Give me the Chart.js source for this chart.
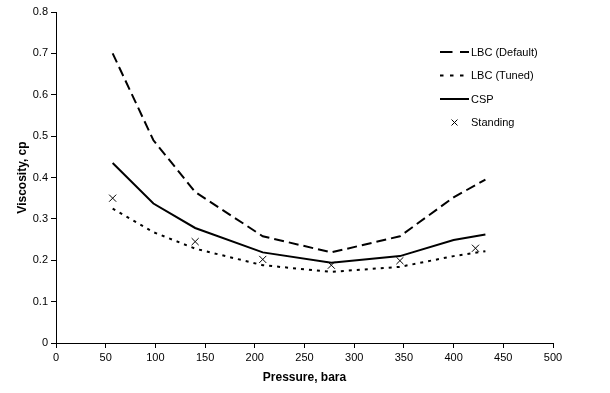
<!DOCTYPE html>
<html><head><meta charset="utf-8">
<script src="https://cdn.jsdelivr.net/npm/chart.js@4/dist/chart.umd.min.js"></script>
<style>html,body{margin:0;padding:0;background:#fff}#wrap{width:610px;height:393px}</style>
</head><body><div id="wrap"><canvas id="c" width="610" height="393"></canvas></div>
<script>
const pressureLines = [57, 98, 140, 208, 277, 346, 400, 432];
const lbcDefault = [0.700, 0.490, 0.365, 0.258, 0.219, 0.258, 0.352, 0.395];
const lbcTuned   = [0.325, 0.268, 0.228, 0.188, 0.172, 0.184, 0.210, 0.222];
const csp        = [0.435, 0.337, 0.278, 0.219, 0.194, 0.210, 0.249, 0.262];
const pressureStanding = [57, 140, 208, 277, 346, 422];
const standing   = [0.350, 0.245, 0.202, 0.188, 0.199, 0.229];
const seriesNames = ['LBC (Default)', 'LBC (Tuned)', 'CSP', 'Standing'];
const xTitle = 'Pressure, bara';
const yTitle = 'Viscosity, cp';

const pts = (xs, ys) => xs.map((x, i) => ({x, y: ys[i]}));
const FONT = "'Liberation Sans', Arial, sans-serif";
const legendDashes = [[12.5, 7.5], [3.5, 6.5], [], null];

const legendPlugin = {
  id: 'customLegend',
  afterDraw(chart) {
    const ctx = chart.ctx;
    const rows = [52, 75.5, 99, 122.5];
    ctx.save();
    ctx.font = '11px ' + FONT;
    ctx.fillStyle = '#000';
    ctx.textBaseline = 'middle';
    chart.data.datasets.forEach((ds, i) => {
      const y = rows[i];
      if (ds.showLine) {
        ctx.strokeStyle = '#000';
        ctx.lineWidth = ds.borderWidth;
        ctx.setLineDash(legendDashes[i]);
        ctx.beginPath(); ctx.moveTo(440, y); ctx.lineTo(469, y); ctx.stroke();
        ctx.setLineDash([]);
      } else {
        ctx.strokeStyle = '#000'; ctx.lineWidth = 1;
        const cx = 454.5, r = 3;
        ctx.beginPath();
        ctx.moveTo(cx - r, y - r); ctx.lineTo(cx + r, y + r);
        ctx.moveTo(cx - r, y + r); ctx.lineTo(cx + r, y - r);
        ctx.stroke();
      }
      ctx.fillText(ds.label, 471, y + 0.5);
    });
    ctx.restore();
  }
};

new Chart(document.getElementById('c'), {
  type: 'scatter',
  data: {
    datasets: [
      {label: seriesNames[0], data: pts(pressureLines, lbcDefault), showLine: true, borderColor: '#000', borderWidth: 2, borderDash: [10, 5], pointRadius: 0, fill: false},
      {label: seriesNames[1], data: pts(pressureLines, lbcTuned), showLine: true, borderColor: '#000', borderWidth: 2, borderDash: [3, 5], pointRadius: 0, fill: false},
      {label: seriesNames[2], data: pts(pressureLines, csp), showLine: true, borderColor: '#000', borderWidth: 2, pointRadius: 0, fill: false},
      {label: seriesNames[3], data: pts(pressureStanding, standing), showLine: false, borderColor: '#000', backgroundColor: '#000', borderWidth: 1, pointStyle: 'crossRot', pointRadius: 5}
    ]
  },
  options: {
    responsive: false,
    animation: false,
    layout: {padding: {left: 0, right: 57, top: 12, bottom: 0}},
    plugins: {legend: {display: false}, tooltip: {enabled: false}},
    scales: {
      x: {
        type: 'linear', min: 0, max: 500,
        ticks: {stepSize: 50, color: '#000', font: {family: FONT, size: 11}, padding: 3, maxRotation: 0},
        grid: {drawOnChartArea: false, drawTicks: true, tickLength: 5, color: '#000'},
        border: {display: true, color: '#000', width: 1},
        title: {display: true, text: xTitle, color: '#000', font: {family: FONT, size: 12, weight: 'bold'}, padding: {top: 0, bottom: 8}},
        afterFit: s => { s.height = 50; }
      },
      y: {
        min: 0, max: 0.8,
        ticks: {stepSize: 0.1, color: '#000', font: {family: FONT, size: 11}, padding: 3},
        grid: {drawOnChartArea: false, drawTicks: true, tickLength: 5, color: '#000'},
        border: {display: true, color: '#000', width: 1},
        title: {display: true, text: yTitle, color: '#000', font: {family: FONT, size: 12, weight: 'bold'}, padding: {top: 15, bottom: 0}},
        afterFit: s => { s.width = 56; }
      }
    }
  },
  plugins: [legendPlugin]
});
</script></body></html>
